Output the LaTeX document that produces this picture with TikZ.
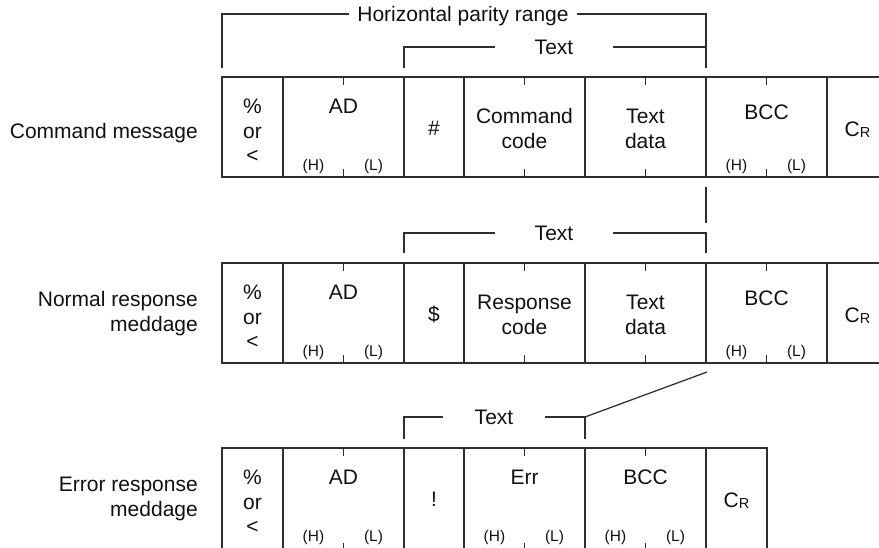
\documentclass[tikz,border=0pt]{standalone}
\usepackage{fontspec}
\setmainfont{Liberation Sans}
\definecolor{linec}{HTML}{2E2E2E}
\definecolor{textc}{HTML}{111111}
% one frame cell: name, left x, top y, width
\newcommand\framecell[4]{\node[cell, minimum width=#4pt] (#1) at (#2,#3) {};}
% short marks on the top and bottom edge of a cell, at its middle
\newcommand\midmarks[1]{%
  \draw[line] (#1.north) -- ++(0,8);
  \draw[line] (#1.south) -- ++(0,-8);}
\newcommand\crmark{C\raisebox{-1.5pt}{\fontsize{14.5}{17}\selectfont R}}
\begin{document}
\begin{tikzpicture}[x=1pt,y=-1pt,
  line/.style={draw=linec, line width=1.25pt},
  cell/.style={line, anchor=north west, minimum height=100pt,
    inner sep=0pt, outer sep=0pt},
  lbl/.style={font=\fontsize{21}{25}\selectfont, text=textc,
    inner sep=0pt, anchor=base},
  sml/.style={font=\fontsize{15.5}{18}\selectfont, text=textc,
    inner sep=0pt, anchor=base},
  rowname/.style={font=\fontsize{21}{25}\selectfont, text=textc,
    inner sep=0pt, anchor=base east},
  gaplabel/.style={font=\fontsize{21}{25}\selectfont, text=textc,
    inner sep=0pt, text height=15pt, text depth=0pt, anchor=center},
]
\useasboundingbox (0,0) rectangle (879,547);

% ---------------- command message ----------------
\framecell{a1}{222}{77}{61}
\framecell{a2}{283}{77}{121}
\framecell{a3}{404}{77}{60}
\framecell{a4}{464}{77}{121}
\framecell{a5}{585}{77}{121}
\framecell{a6}{706}{77}{121}
\framecell{a7}{827}{77}{61}
\midmarks{a2}\midmarks{a4}\midmarks{a5}\midmarks{a6}

\node[lbl] (a1p) at ([yshift=-36pt]a1.north) {\%};
\node[lbl] (a1o) at ([yshift=-61pt]a1.north) {or};
\node[lbl] (a1l) at ([yshift=-85pt]a1.north) {<};
\node[lbl] (a2t) at ([yshift=-36pt]a2.north) {AD};
\node[sml] (a2h) at ([xshift=-30pt,yshift=-93pt]a2.north) {(H)};
\node[sml] (a2l) at ([xshift=30pt,yshift=-93pt]a2.north) {(L)};
\node[lbl] (a3t) at ([yshift=-58pt]a3.north) {\#};
\node[lbl] (a4t) at ([yshift=-46pt]a4.north) {Command};
\node[lbl] (a4b) at ([yshift=-71pt]a4.north) {code};
\node[lbl] (a5t) at ([yshift=-46pt]a5.north) {Text};
\node[lbl] (a5b) at ([yshift=-71pt]a5.north) {data};
\node[lbl] (a6t) at ([yshift=-42pt]a6.north) {BCC};
\node[sml] (a6h) at ([xshift=-30pt,yshift=-93pt]a6.north) {(H)};
\node[sml] (a6l) at ([xshift=30pt,yshift=-93pt]a6.north) {(L)};
\node[lbl] (a7t) at ([yshift=-59pt]a7.north) {\crmark};
\node[rowname] (n1) at (198,138) {Command message};

% ranges above the command message
\coordinate (parL) at (222,68);
\coordinate (parR) at (706,68);
\node[gaplabel, minimum width=228pt] (par) at (463,14) {Horizontal parity range};
\draw[line] (parL) |- (par.west);
\draw[line] (par.east) -| (parR);

\coordinate (t1L) at (404,68);
\coordinate (t1R) at (706,68);
\node[gaplabel, minimum width=118pt] (t1) at (554,47) {Text};
\draw[line] (t1L) |- (t1.west);
\draw[line] (t1.east) -| (t1R);

% link down to the next message
\coordinate (v1a) at (706,187);
\coordinate (v1b) at (706,223);
\draw[line] (v1a) -- (v1b);

% ---------------- normal response ----------------
\framecell{b1}{222}{263}{61}
\framecell{b2}{283}{263}{121}
\framecell{b3}{404}{263}{60}
\framecell{b4}{464}{263}{121}
\framecell{b5}{585}{263}{121}
\framecell{b6}{706}{263}{121}
\framecell{b7}{827}{263}{61}
\midmarks{b2}\midmarks{b4}\midmarks{b5}\midmarks{b6}

\node[lbl] (b1p) at ([yshift=-36pt]b1.north) {\%};
\node[lbl] (b1o) at ([yshift=-61pt]b1.north) {or};
\node[lbl] (b1l) at ([yshift=-85pt]b1.north) {<};
\node[lbl] (b2t) at ([yshift=-36pt]b2.north) {AD};
\node[sml] (b2h) at ([xshift=-30pt,yshift=-93pt]b2.north) {(H)};
\node[sml] (b2l) at ([xshift=30pt,yshift=-93pt]b2.north) {(L)};
\node[lbl] (b3t) at ([yshift=-58pt]b3.north) {\$};
\node[lbl] (b4t) at ([yshift=-46pt]b4.north) {Response};
\node[lbl] (b4b) at ([yshift=-71pt]b4.north) {code};
\node[lbl] (b5t) at ([yshift=-46pt]b5.north) {Text};
\node[lbl] (b5b) at ([yshift=-71pt]b5.north) {data};
\node[lbl] (b6t) at ([yshift=-42pt]b6.north) {BCC};
\node[sml] (b6h) at ([xshift=-30pt,yshift=-93pt]b6.north) {(H)};
\node[sml] (b6l) at ([xshift=30pt,yshift=-93pt]b6.north) {(L)};
\node[lbl] (b7t) at ([yshift=-59pt]b7.north) {\crmark};
\node[rowname] (n2a) at (198,306) {Normal response};
\node[rowname] (n2b) at (198,331) {meddage};

\coordinate (t2L) at (404,253);
\coordinate (t2R) at (706,253);
\node[gaplabel, minimum width=118pt] (t2) at (554,233) {Text};
\draw[line] (t2L) |- (t2.west);
\draw[line] (t2.east) -| (t2R);

% ---------------- error response (runs past the lower edge) ----------------
\begin{scope}[cell/.append style={minimum height=103pt}]
\framecell{c1}{222}{448}{61}
\framecell{c2}{283}{448}{121}
\framecell{c3}{404}{448}{60}
\framecell{c4}{464}{448}{121}
\framecell{c5}{585}{448}{121}
\framecell{c6}{706}{448}{61}
\end{scope}
\midmarks{c2}\midmarks{c4}\midmarks{c5}

\node[lbl] (c1p) at ([yshift=-36pt]c1.north) {\%};
\node[lbl] (c1o) at ([yshift=-61pt]c1.north) {or};
\node[lbl] (c1l) at ([yshift=-85pt]c1.north) {<};
\node[lbl] (c2t) at ([yshift=-36pt]c2.north) {AD};
\node[sml] (c2h) at ([xshift=-30pt,yshift=-93pt]c2.north) {(H)};
\node[sml] (c2l) at ([xshift=30pt,yshift=-93pt]c2.north) {(L)};
\node[lbl] (c3t) at ([yshift=-58pt]c3.north) {!};
\node[lbl] (c4t) at ([yshift=-36pt]c4.north) {Err};
\node[sml] (c4h) at ([xshift=-30pt,yshift=-93pt]c4.north) {(H)};
\node[sml] (c4l) at ([xshift=30pt,yshift=-93pt]c4.north) {(L)};
\node[lbl] (c5t) at ([yshift=-36pt]c5.north) {BCC};
\node[sml] (c5h) at ([xshift=-30pt,yshift=-93pt]c5.north) {(H)};
\node[sml] (c5l) at ([xshift=30pt,yshift=-93pt]c5.north) {(L)};
\node[lbl] (c6t) at ([yshift=-59pt]c6.north) {\crmark};
\node[rowname] (n3a) at (198,491) {Error response};
\node[rowname] (n3b) at (198,516) {meddage};

\coordinate (t3L) at (404,439);
\coordinate (t3R) at (585,439);
\coordinate (t3C) at (585,417);
\coordinate (dg) at (707,372);
\node[gaplabel, minimum width=102pt] (t3) at (494,417) {Text};
\draw[line] (t3L) |- (t3.west);
\draw[line] (t3.east) -- (t3C) -- (t3R);
\draw[line] (t3C) -- (dg);
\end{tikzpicture}
\end{document}
